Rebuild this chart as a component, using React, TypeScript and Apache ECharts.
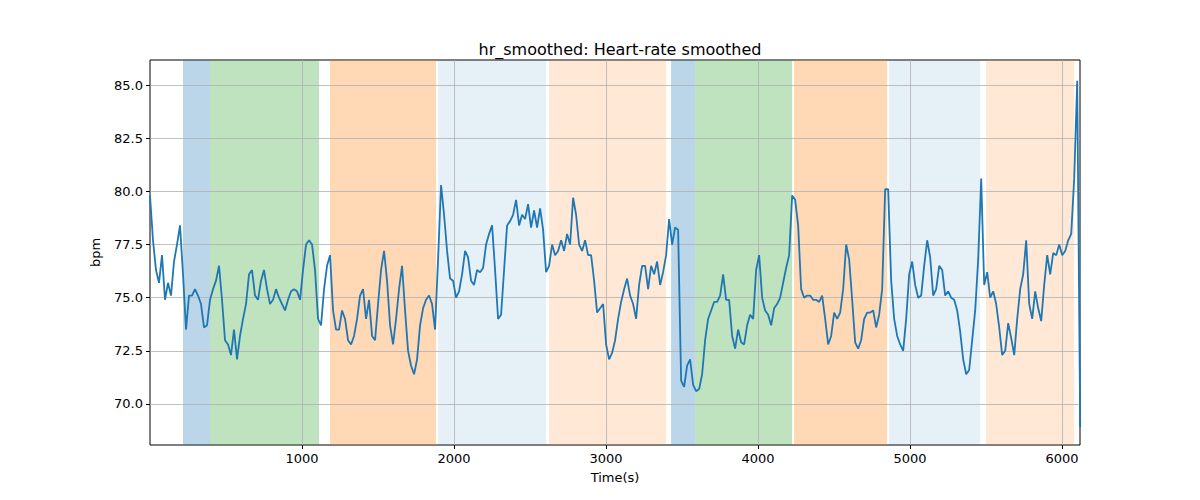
import { useRef, useEffect } from "react";
import * as echarts from "echarts";

// heart rate samples, one every SAMPLE_STEP seconds starting at t=0
const SAMPLE_STEP = 19.74;
const hrValues: number[] = [
  79.8, 77.7, 76.3, 75.7, 77.0, 74.9, 75.7, 75.1, 76.7, 77.5, 78.4, 76.1, 73.5, 75.1, 75.1, 75.4, 75.1, 74.7, 73.6, 73.7, 74.9,
  75.4, 75.8, 76.5, 74.9, 73.0, 72.8, 72.3, 73.5, 72.1, 73.2, 74.0, 74.7, 76.1, 76.3, 75.1, 74.9, 75.8, 76.3, 75.4, 74.7, 74.9, 75.4, 75.0, 74.7, 74.4, 74.9, 75.3, 75.4, 75.3, 74.9,
  76.3, 77.5, 77.7, 77.5, 76.3, 74.0, 73.7, 75.4, 76.5, 77.0, 74.4, 73.5, 73.5, 74.4, 74.0, 73.0, 72.8, 73.2, 74.0, 75.1, 75.4, 74.0, 74.9, 73.2, 73.0, 74.7, 76.3, 77.2, 75.8, 73.7,
  72.8, 74.0, 75.4, 76.5, 74.4, 72.5, 71.8, 71.4, 72.1, 73.7, 74.5, 74.9, 75.1, 74.7, 73.5, 76.8, 80.3, 78.9, 77.2, 75.9, 75.8, 75.0, 75.3, 76.1, 77.2, 76.9, 75.8, 75.6, 76.3, 76.2,
  76.4, 77.5, 78.0, 78.4, 76.3, 74.0, 74.2, 76.3, 78.4, 78.6, 78.9, 79.6, 78.4, 78.9, 78.7, 79.4, 78.3, 79.1, 78.3, 79.2, 78.2, 76.2, 76.5, 77.5, 77.0, 77.2, 77.7, 77.2, 78.0, 77.5,
  79.7, 78.9, 77.5, 77.2, 77.7, 77.0, 77.0, 75.8, 74.3, 74.5, 74.7, 72.8, 72.1, 72.4, 73.0, 74.0, 74.8, 75.4, 75.9, 75.1, 74.7, 74.0, 75.6, 76.5, 76.5, 75.4, 76.5, 76.1, 76.7, 75.6,
  76.2, 77.0, 78.7, 77.5, 78.3, 78.2, 71.1, 70.8, 71.8, 72.1, 70.9, 70.6, 70.7, 71.4, 73.0, 74.0, 74.4, 74.8, 74.8, 75.1, 76.1, 74.9, 74.9, 73.2, 72.6, 73.5, 72.9, 72.8, 73.7, 74.2,
  74.0, 76.3, 77.0, 75.0, 74.4, 74.2, 73.7, 74.5, 74.7, 75.0, 75.7, 76.4, 77.0, 79.8, 79.6, 78.4, 75.4, 75.0, 75.1, 75.1, 74.9, 74.9, 74.8, 75.1, 74.0, 72.8, 73.2, 74.3, 74.0, 74.3,
  75.4, 77.5, 76.8, 74.9, 72.9, 72.6, 73.0, 74.0, 74.3, 74.3, 74.4, 73.6, 74.2, 75.4, 80.1, 80.1, 75.8, 74.0, 73.2, 72.8, 72.5, 74.0, 76.1, 76.7, 75.6, 75.0, 75.1, 76.5, 77.7, 76.9,
  75.1, 75.4, 76.5, 76.3, 75.1, 75.3, 75.0, 74.9, 74.4, 73.4, 72.1, 71.4, 71.6, 73.0, 74.4, 76.8, 80.6, 75.6, 76.2, 75.0, 75.3, 74.7, 73.6, 72.3, 72.5, 73.8, 73.1, 72.3, 74.0, 75.4,
  76.1, 77.7, 74.7, 74.0, 75.3, 74.5, 73.9, 75.6, 77.0, 76.1, 77.1, 77.0, 77.5, 77.0, 77.2, 77.7, 78.0, 80.6, 85.2, 68.9,
];

// shaded phases: [start, end, kind]
const phases: [number, number, string][] = [
  [217, 395, "blue"],
  [395, 1112, "green"],
  [1184, 1882, "orange"],
  [1895, 2605, "lightblue"],
  [2625, 3395, "lightorange"],
  [3428, 3586, "blue"],
  [3586, 4224, "green"],
  [4237, 4849, "orange"],
  [4862, 5461, "lightblue"],
  [5500, 6079, "lightorange"],
];

const phaseColors: Record<string, string> = {
  blue: "rgba(31,119,180,0.3)",
  green: "rgba(44,160,44,0.3)",
  orange: "rgba(255,127,14,0.3)",
  lightblue: "rgba(31,119,180,0.11)",
  lightorange: "rgba(255,127,14,0.17)",
};

const xTicks = [1000, 2000, 3000, 4000, 5000, 6000];
const yTicks = [70, 72.5, 75, 77.5, 80, 82.5, 85];

const X_MIN = 0;
const X_MAX = 6118;
const Y_MIN = 68.07;
const Y_MAX = 86.18;

export default function App() {
  const chartRef = useRef<HTMLDivElement>(null);

  useEffect(() => {
    document.body.style.margin = "0";
    if (!chartRef.current) return;
    const chart = echarts.init(chartRef.current, undefined, { renderer: "svg" });
    const font = "DejaVu Sans";
    const gridColor = "#b0b0b0";

    const option: echarts.EChartsOption = {
      animation: false,
      textStyle: { fontFamily: font },
      title: {
        text: "hr_smoothed: Heart-rate smoothed",
        left: 615,
        top: 36,
        textAlign: "center",
        textStyle: { fontFamily: font, fontSize: 16, fontWeight: "normal", color: "#000" },
      },
      grid: {
        left: 150, right: 120, top: 60, bottom: 55,
        show: true, borderColor: "#000", borderWidth: 1, backgroundColor: "transparent",
      },
      xAxis: {
        type: "value",
        min: X_MIN,
        max: X_MAX,
        interval: 1000,
        name: "Time(s)",
        nameLocation: "middle",
        nameGap: 26,
        nameTextStyle: { fontFamily: font, fontSize: 13, color: "#000" },
        axisLine: { show: false },
        axisTick: { show: true, customValues: xTicks, length: 4, lineStyle: { color: "#000" } },
        axisLabel: {
          customValues: xTicks, fontFamily: font, fontSize: 13, color: "#000", margin: 7,
          formatter: (v: number) => String(v),
        },
        splitLine: { show: false },
      },
      yAxis: {
        type: "value",
        min: Y_MIN,
        max: Y_MAX,
        name: "bpm",
        nameLocation: "middle",
        nameGap: 48,
        nameTextStyle: { fontFamily: font, fontSize: 13, color: "#000" },
        axisLine: { show: false },
        axisTick: { show: true, customValues: yTicks, length: 4, lineStyle: { color: "#000" } },
        axisLabel: {
          customValues: yTicks, fontFamily: font, fontSize: 13, color: "#000", margin: 7,
          formatter: (v: number) => v.toFixed(1),
        },
        splitLine: { show: false },
      },
      series: [
        {
          type: "line",
          data: hrValues.map((v, i) => [i * SAMPLE_STEP, v]),
          showSymbol: false,
          lineStyle: { color: "#1f77b4", width: 1.8 },
          z: 5,
          markArea: {
            silent: true,
            data: phases.map(([s, e, k]) => [
              { xAxis: s, itemStyle: { color: phaseColors[k] } },
              { xAxis: e },
            ]) as any,
          },
        },
        {
          type: "line",
          data: [],
          z: 3,
          markLine: {
            silent: true,
            symbol: "none",
            label: { show: false },
            lineStyle: { color: gridColor, width: 0.8, type: "solid" },
            data: [
              ...xTicks.map((x) => ({ xAxis: x })),
              ...yTicks.map((y) => ({ yAxis: y })),
            ],
          },
        },
      ],
    };

    chart.setOption(option);
    return () => chart.dispose();
  }, []);

  return <div ref={chartRef} style={{ width: 1200, height: 500 }} />;
}
